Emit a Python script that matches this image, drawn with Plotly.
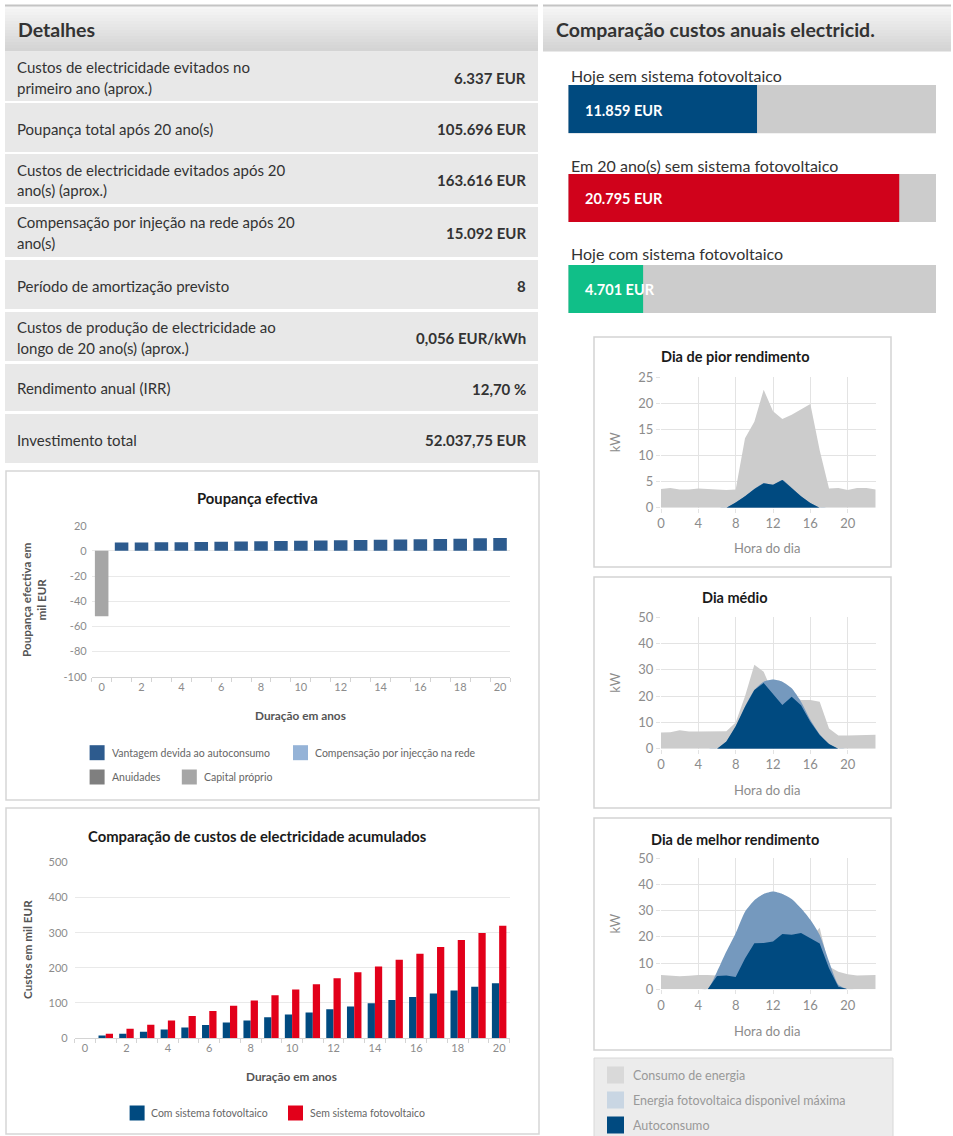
import plotly.graph_objects as go

W, H = 953, 1136
FONT = "Lato"


def fx(v):
    return v / W


def fy(v):
    return 1 - v / H


# ---------------- data ----------------
detail_labels = [
    "Custos de electricidade evitados no<br>primeiro ano (aprox.)",
    "Poupança total após 20 ano(s)",
    "Custos de electricidade evitados após 20<br>ano(s) (aprox.)",
    "Compensação por injeção na rede após 20<br>ano(s)",
    "Período de amortização previsto",
    "Custos de produção de electricidade ao<br>longo de 20 ano(s) (aprox.)",
    "Rendimento anual (IRR)",
    "Investimento total",
]
detail_values = [
    "6.337 EUR", "105.696 EUR", "163.616 EUR", "15.092 EUR",
    "8", "0,056 EUR/kWh", "12,70 %", "52.037,75 EUR",
]

annual_labels = [
    "Hoje sem sistema fotovoltaico",
    "Em 20 ano(s) sem sistema fotovoltaico",
    "Hoje com sistema fotovoltaico",
]
annual_costs = [11859, 20795, 4701]
annual_colors = ["#004a7f", "#d0021b", "#10bf88"]

# Poupança efectiva (mil EUR)
benefit_years = [1, 2, 3, 4, 5, 6, 7, 8, 9, 10, 11, 12, 13, 14, 15, 16, 17, 18, 19, 20]
self_use_benefit = [6.6, 6.7, 6.8, 6.9, 7.1, 7.3, 7.5, 7.6, 7.8, 8.0,
                    8.2, 8.4, 8.6, 8.8, 9.0, 9.2, 9.5, 9.7, 10.0, 10.3]
feed_in_years = []
feed_in_comp = []
annuity_years = []
annuities = []
equity_years = [0]
equity = [-52.04]
savings_ticks = [20, 0, -20, -40, -60, -80, -100]

# Custos acumulados (mil EUR)
years = [0, 1, 2, 3, 4, 5, 6, 7, 8, 9, 10, 11, 12, 13, 14, 15, 16, 17, 18, 19, 20]
cost_with_pv = [0, 7, 12, 18, 24, 30, 37, 44, 50, 59, 67, 73, 82, 90, 99, 108, 117, 127, 135, 146, 156]
cost_without_pv = [0, 12, 26, 38, 50, 63, 77, 92, 107, 122, 138, 153, 170, 187, 204, 223, 240, 259, 279, 299, 320]

# Perfis diários (kW por hora)
hours = [0, 1, 2, 3, 4, 5, 6, 7, 8, 9, 10, 11, 12, 13, 14, 15, 16, 17, 18, 19, 20, 21, 22, 23]
worst_consumption = [3.6, 3.8, 3.5, 3.5, 3.7, 3.6, 3.5, 3.4, 3.5, 13.3, 16.5, 22.6,
                     18.5, 17.0, 17.8, 18.8, 19.9, 11.0, 3.7, 3.8, 3.4, 3.8, 3.8, 3.5]
worst_pv = [0, 0, 0, 0, 0, 0, 0, 0, 1.0, 2.2, 3.6, 4.7,
            4.4, 5.3, 3.8, 2.2, 0.9, 0, 0, 0, 0, 0, 0, 0]
worst_self = [0, 0, 0, 0, 0, 0, 0, 0, 1.0, 2.2, 3.6, 4.7,
              4.4, 5.3, 3.8, 2.2, 0.9, 0, 0, 0, 0, 0, 0, 0]

avg_consumption = [6.2, 6.3, 7.0, 6.5, 6.5, 6.5, 6.5, 6.6, 10.0, 20.0, 31.9, 29.3,
                   21.0, 16.6, 19.8, 18.5, 18.5, 17.9, 7.7, 5.0, 5.0, 5.0, 5.2, 5.3]
avg_pv = [0, 0, 0, 0, 0, 0, 0, 2.7, 8.5, 16.0, 22.3, 25.5,
          26.3, 25.5, 23.0, 17.9, 11.0, 5.5, 1.8, 0, 0, 0, 0, 0]
avg_self = [0, 0, 0, 0, 0, 0, 0, 2.7, 8.5, 16.0, 22.3, 25.0,
            21.0, 16.6, 19.8, 16.5, 10.3, 5.2, 1.8, 0, 0, 0, 0, 0]

best_consumption = [5.5, 5.2, 5.0, 5.2, 5.5, 5.5, 5.3, 5.5, 4.7, 11.8, 17.6, 17.7,
                    18.2, 21.1, 20.8, 21.5, 19.5, 23.5, 8.7, 6.7, 5.7, 5.3, 5.4, 5.5]
best_pv = [0, 0, 0, 0, 0, 0, 6.7, 14.4, 21.4, 29.6, 34.0, 36.4,
           37.3, 36.4, 34.5, 30.9, 26.5, 20.7, 10.6, 1.7, 0, 0, 0, 0]
best_self = [0, 0, 0, 0, 0, 0, 5.1, 5.3, 4.7, 11.8, 17.6, 17.7,
             18.2, 21.1, 20.8, 21.5, 19.5, 17.5, 8.0, 1.0, 0, 0, 0, 0]

day_titles = ["Dia de pior rendimento", "Dia médio", "Dia de melhor rendimento"]
day_series = [
    (worst_consumption, worst_pv, worst_self),
    (avg_consumption, avg_pv, avg_self),
    (best_consumption, best_pv, best_self),
]
day_ymax = [25, 50, 50]
day_dtick = [5, 10, 10]

# ---------------- styles ----------------
C_TEXT = "#333333"
C_TICK = "#8c8c8c"
C_GRID = "#e9e9e9"
C_ROW = "#e8e8e8"
C_CONS = "#cccccc"
C_PV = "#7599be"
C_SELF = "#004a80"

fig = go.Figure()
shapes = []
annotations = []


def rect(x0, y0, x1, y1, fill, line=None, lw=0, layer="below"):
    shapes.append(dict(type="rect", xref="paper", yref="paper",
                       x0=fx(x0), x1=fx(x1), y0=fy(y1), y1=fy(y0),
                       fillcolor=fill, layer=layer,
                       line=dict(color=line or fill, width=lw)))


def text(x, y, s, size, color=C_TEXT, bold=False, xanchor="left", angle=0, family=FONT):
    annotations.append(dict(x=fx(x), y=fy(y), xref="paper", yref="paper", text=s,
                            showarrow=False, xanchor=xanchor, yanchor="middle",
                            textangle=angle,
                            font=dict(family=family, size=size, color=color,
                                      weight="bold" if bold else "normal")))


def header(x0, x1, title):
    # gradient header bar with top rule
    top, bottom = (246, 246, 246), (212, 212, 212)
    y0, y1 = 6, 51
    n = 15
    step = (y1 - y0) / n
    for i in range(n):
        t = i / (n - 1)
        c = tuple(int(top[k] + (bottom[k] - top[k]) * t) for k in range(3))
        rect(x0, y0 + i * step, x1, y0 + (i + 1) * step + 0.5, "rgb(%d,%d,%d)" % c)
    rect(x0, 4.5, x1, 6.5, "#c4c4c4")
    text(x0 + 10.5, 29.5, title, 19.5, C_TEXT, bold=True)


# ---------------- detail table ----------------
header(5, 538, "Detalhes")
row_bounds = [(52, 101), (103, 152), (154, 204), (207, 257),
              (260, 309), (312, 361), (364, 411), (414, 463)]
for (r0, r1), lab, val in zip(row_bounds, detail_labels, detail_values):
    rect(5, r0, 538, r1, C_ROW)
    mid = (r0 + r1) / 2
    lines = lab.split("<br>")
    if len(lines) == 1:
        text(15, mid + 1, lines[0], 15)
    else:
        text(15, mid - 9.5, lines[0], 15)
        text(15, mid + 11, lines[1], 15)
    text(528, mid + 1.5, val, 15, C_TEXT, bold=True, xanchor="right")

# ---------------- annual cost bars ----------------
header(543, 951, "Comparação custos anuais electricid.")
bar_rows = [(85, 133.3, 75), (174, 222, 165), (265, 313, 254)]
scale_max = max(annual_costs) / 0.9
for i, (lab, val, col) in enumerate(zip(annual_labels, annual_costs, annual_colors)):
    k = 3 + i
    b0, b1, ly = bar_rows[i]
    fig.add_trace(go.Bar(x=[val], y=[0], orientation="h", width=1,
                         marker=dict(color=col, line=dict(width=0)),
                         xaxis="x%d" % k, yaxis="y%d" % k,
                         showlegend=False, hoverinfo="skip"))
    fig.layout["xaxis%d" % k] = dict(domain=[fx(568.3), fx(936)], range=[0, scale_max],
                                     visible=False, anchor="y%d" % k, fixedrange=True,
                                     automargin=False)
    fig.layout["yaxis%d" % k] = dict(domain=[fy(b1), fy(b0)], range=[-0.5, 0.5],
                                     visible=False, anchor="x%d" % k, fixedrange=True,
                                     automargin=False)
    shapes.append(dict(type="rect", xref="x%d domain" % k, yref="y%d domain" % k,
                       x0=0, x1=1, y0=0, y1=1, fillcolor="#cccccc",
                       line=dict(width=0), layer="below"))
    text(569, ly, lab, 16)
    text(582.7, (b0 + b1) / 2 + 1, ("{:,} EUR".format(val)).replace(",", "."),
         14.5, "#ffffff", bold=True)

# ---------------- Poupança efectiva ----------------
rect(6, 471, 539, 800, "#ffffff", "#d6d6d6", 1.5)
text(257.6, 498, "Poupança efectiva", 14.8, "#1a1a1a", bold=True, xanchor="center")
fig.add_trace(go.Bar(x=equity_years, y=equity, width=0.68, offsetgroup="s",
                     marker=dict(color="#a6a6a6", line=dict(width=0)),
                     name="Capital próprio", showlegend=False, hoverinfo="skip"))
fig.add_trace(go.Bar(x=annuity_years, y=annuities, width=0.68, offsetgroup="s",
                     marker=dict(color="#7f7f7f", line=dict(width=0)),
                     name="Anuidades", showlegend=False, hoverinfo="skip"))
fig.add_trace(go.Bar(x=benefit_years, y=self_use_benefit, width=0.68, offsetgroup="s",
                     marker=dict(color="#2d5b8e", line=dict(width=0)),
                     name="Vantagem devida ao autoconsumo", showlegend=False, hoverinfo="skip"))
fig.add_trace(go.Bar(x=feed_in_years, y=feed_in_comp, width=0.68, offsetgroup="s",
                     marker=dict(color="#95b3d7", line=dict(width=0)),
                     name="Compensação por injecção na rede", showlegend=False, hoverinfo="skip"))

tick_font = dict(family=FONT, size=11, color=C_TICK)
fig.layout.xaxis = dict(domain=[fx(91.7), fx(510)], range=[-0.5, 20.5], anchor="y",
                        tickvals=years[::2], showgrid=False, zeroline=False,
                        showline=True, linecolor="#d4d4d4", linewidth=1,
                        ticks="", tickfont=tick_font, automargin=False,
                        minor=dict(tickvals=[v - 0.5 for v in years] + [20.5],
                                   ticks="outside", ticklen=4, tickcolor="#d4d4d4",
                                   showgrid=False),
                        fixedrange=True)
fig.layout.yaxis = dict(domain=[fy(676.7), fy(525.7)], range=[-100, 20], anchor="x",
                        tickvals=savings_ticks, ticktext=[str(v) for v in savings_ticks],
                        showgrid=True, gridcolor=C_GRID, zeroline=False, showline=False,
                        tickfont=tick_font, ticklabelstandoff=4, fixedrange=True,
                        automargin=False)
text(33, 600, "Poupança efectiva em<br>mil EUR", 11.7, "#555555", bold=True,
     xanchor="center", angle=-90)
text(300, 715, "Duração em anos", 11.8, "#555555", bold=True, xanchor="center")

savings_legend = [
    (89.6, 752.7, "#2d5b8e", "Vantagem devida ao autoconsumo"),
    (293, 752.7, "#95b3d7", "Compensação por injecção na rede"),
    (89.6, 777, "#7f7f7f", "Anuidades"),
    (181.8, 777, "#a6a6a6", "Capital próprio"),
]
for x0, yc, col, lab in savings_legend:
    rect(x0, yc - 7.5, x0 + 15, yc + 7.5, col, layer="above")
    text(x0 + 20, yc, lab, 10.5, "#666666")

# ---------------- Custos acumulados ----------------
rect(6, 808, 539, 1134, "#ffffff", "#d6d6d6", 1.5)
text(257.6, 836, "Comparação de custos de electricidade acumulados", 14.8, "#1a1a1a",
     bold=True, xanchor="center")
fig.add_trace(go.Bar(x=years, y=cost_with_pv, xaxis="x2", yaxis="y2",
                     marker=dict(color="#004a80", line=dict(width=0)),
                     name="Com sistema fotovoltaico", showlegend=False, hoverinfo="skip"))
fig.add_trace(go.Bar(x=years, y=cost_without_pv, xaxis="x2", yaxis="y2",
                     marker=dict(color="#e2001a", line=dict(width=0)),
                     name="Sem sistema fotovoltaico", showlegend=False, hoverinfo="skip"))
fig.layout.xaxis2 = dict(domain=[fx(74.7), fx(509.5)], range=[-0.5, 20.5], anchor="y2",
                         tickvals=years[::2], showgrid=False, zeroline=False,
                         showline=True, linecolor="#d4d4d4", linewidth=1,
                         ticks="", tickfont=tick_font, automargin=False,
                         minor=dict(tickvals=[v - 0.5 for v in years] + [20.5],
                                    ticks="outside", ticklen=4, tickcolor="#d4d4d4",
                                    showgrid=False),
                         fixedrange=True)
fig.layout.yaxis2 = dict(domain=[fy(1038), fy(862.5)], range=[0, 500], anchor="x2",
                         dtick=100, showgrid=True, gridcolor=C_GRID, zeroline=False,
                         showline=False, tickfont=tick_font, ticklabelstandoff=6,
                         fixedrange=True, automargin=False)
text(27, 950, "Custos em mil EUR", 11.7, "#555555", bold=True, xanchor="center", angle=-90)
text(291.7, 1076, "Duração em anos", 11.8, "#555555", bold=True, xanchor="center")
cost_legend = [
    (129.6, 1113, "#004a80", "Com sistema fotovoltaico"),
    (288, 1113, "#e2001a", "Sem sistema fotovoltaico"),
]
for x0, yc, col, lab in cost_legend:
    rect(x0, yc - 7.5, x0 + 15, yc + 7.5, col, layer="above")
    text(x0 + 19.5, yc, lab, 10.5, "#666666")

# ---------------- daily profiles ----------------
day_boxes = [(337, 567), (577, 808), (818, 1050)]
day_plot = [(377.3, 507.7), (617.3, 748.7), (858.3, 989.3)]
day_title_y = [356.7, 597.7, 839]
day_xlabel_y = [548.3, 790, 1031]
for i in range(3):
    k = 6 + i
    bx0, bx1 = day_boxes[i]
    rect(594, bx0, 891, bx1, "#ffffff", "#d3d3d3", 1.5)
    cons, pv, selfc = day_series[i]
    for ys, col, shp in ((cons, C_CONS, "linear"), (pv, C_PV, "spline"), (selfc, C_SELF, "linear")):
        fig.add_trace(go.Scatter(x=hours, y=ys, mode="lines", fill="tozeroy",
                                 fillcolor=col, line=dict(width=0, color=col, shape=shp,
                                                          smoothing=0.6),
                                 xaxis="x%d" % k, yaxis="y%d" % k,
                                 showlegend=False, hoverinfo="skip"))
    p0, p1 = day_plot[i]
    fig.layout["xaxis%d" % k] = dict(domain=[fx(661), fx(875.7)], range=[0, 23],
                                     anchor="y%d" % k, dtick=4, tick0=0,
                                     showgrid=True, gridcolor="#e3e3e3", zeroline=False,
                                     showline=False, ticks="outside", ticklen=4,
                                     tickcolor="#e3e3e3", automargin=False,
                                     tickfont=dict(family=FONT, size=13, color=C_TICK),
                                     fixedrange=True)
    fig.layout["yaxis%d" % k] = dict(domain=[fy(p1), fy(p0)], range=[0, day_ymax[i]],
                                     anchor="x%d" % k, dtick=day_dtick[i], tick0=0,
                                     showgrid=True, gridcolor="#e3e3e3", zeroline=False,
                                     showline=False, ticks="outside", ticklen=4,
                                     tickcolor="#e3e3e3", automargin=False,
                                     tickfont=dict(family=FONT, size=13, color=C_TICK),
                                     fixedrange=True)
    text(735, day_title_y[i], day_titles[i], 14.5, "#1a1a1a", bold=True, xanchor="center")
    text(614.7, (p0 + p1) / 2, "kW", 13, C_TICK, xanchor="center", angle=-90)
    text(767, day_xlabel_y[i], "Hora do dia", 13, C_TICK, xanchor="center")

# legend box for the daily profiles
rect(594, 1058, 893, 1140, "#ececec", "#d8d8d8", 1)
profile_legend = [
    (1075, "#d9d9d9", "Consumo de energia"),
    (1100, "#c9d6e3", "Energia fotovoltaica disponivel máxima"),
    (1125, "#004a80", "Autoconsumo"),
]
for yc, col, lab in profile_legend:
    rect(607, yc - 8.5, 624, yc + 8.5, col, layer="above")
    text(631, yc, lab, 12.5, "#999999")

fig.update_layout(
    width=W, height=H, margin=dict(l=0, r=0, t=0, b=0, pad=0, autoexpand=False),
    paper_bgcolor="#ffffff", plot_bgcolor="rgba(0,0,0,0)",
    barmode="group", bargap=0.3, bargroupgap=0,
    showlegend=False, shapes=shapes, annotations=annotations,
    font=dict(family=FONT),
)

fig.write_html("out.html", config={"displayModeBar": False})
